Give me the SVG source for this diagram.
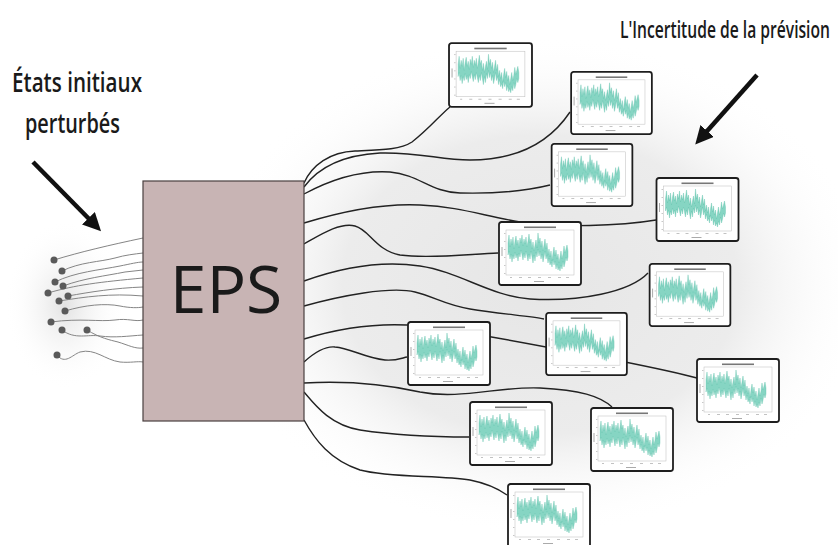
<svg xmlns="http://www.w3.org/2000/svg" xmlns:xlink="http://www.w3.org/1999/xlink" width="838" height="545" viewBox="0 0 838 545">
<defs>
<style>
.lbl{font-family:"Open Sans","Noto Sans","DejaVu Sans",sans-serif;fill:#1a1a1a}
.cap{font-weight:600}
.in{fill:none;stroke:#858585;stroke-width:1}
.dot{fill:#5a5a5a}
.out{fill:none;stroke:#222;stroke-width:1.4}
.arr{stroke:#111;stroke-width:4.5;fill:none}
</style>
<radialGradient id="bg1" cx="0.5" cy="0.5" r="0.5">
<stop offset="0" stop-color="#e6e6e6"/>
<stop offset="0.6" stop-color="#ececec"/>
<stop offset="1" stop-color="#ffffff" stop-opacity="0"/>
</radialGradient>
<radialGradient id="bg2" cx="0.5" cy="0.5" r="0.5">
<stop offset="0" stop-color="#e2e2e2"/>
<stop offset="1" stop-color="#ffffff" stop-opacity="0"/>
</radialGradient>
<marker id="ah" viewBox="0 0 10 10" refX="6" refY="5" markerWidth="4" markerHeight="4" orient="auto" markerUnits="strokeWidth">
<path d="M0,0 L10,5 L0,10 z" fill="#111"/>
</marker>
<symbol id="chart" viewBox="0 0 84 65">
<rect x="1" y="1" width="82" height="63" rx="2.5" fill="#fff" stroke="#1e1e1e" stroke-width="1.8"/>
<rect x="8" y="9" width="68" height="45" fill="#fff" stroke="#bbb" stroke-width="0.5"/>
<rect x="26" y="5.5" width="32" height="1.6" fill="#777"/>
<rect x="3.5" y="26" width="1" height="9" fill="#aaa"/>
<g fill="#bbb"><rect x="6" y="12" width="1.5" height="0.8"/><rect x="6" y="20" width="1.5" height="0.8"/><rect x="6" y="28" width="1.5" height="0.8"/><rect x="6" y="36" width="1.5" height="0.8"/><rect x="6" y="44" width="1.5" height="0.8"/><rect x="6" y="52" width="1.5" height="0.8"/>
<rect x="12" y="56" width="2" height="0.9"/><rect x="21" y="56" width="3" height="0.9"/><rect x="30" y="56" width="3" height="0.9"/><rect x="40" y="56" width="3" height="0.9"/><rect x="50" y="56" width="3" height="0.9"/><rect x="60" y="56" width="3" height="0.9"/><rect x="68" y="56" width="3" height="0.9"/></g>
<rect x="36" y="60" width="10" height="1" fill="#aaa"/>
<polygon fill="#86d5c3" stroke="#5bbfa9" stroke-width="0.35" points="10,22 11,14 12,26 13,18 14,24 15,16 16,28 17,20 18,15 19,24 20,19 21,27 22,17 23,22 24,14 25,25 26,18 27,23 28,16 29,26 30,20 31,13 32,22 33,18 34,28 35,21 36,30 37,24 38,19 39,27 40,12 41,22 42,17 43,26 44,20 45,30 46,24 47,18 48,28 49,22 50,34 51,28 52,36 53,30 54,40 55,32 56,26 57,35 58,29 59,38 60,33 61,42 62,36 63,30 64,38 65,33 66,25 67,32 68,28 69,24 70,30 70,36 69,40 68,36 67,42 66,46 65,40 64,48 63,44 62,50 61,46 60,49 59,43 58,48 57,40 56,44 55,38 54,46 53,41 52,44 51,37 50,42 49,34 48,38 47,30 46,36 45,41 44,33 43,38 42,30 41,35 40,28 39,36 38,31 37,40 36,34 35,42 34,36 33,30 32,38 31,33 30,40 29,35 28,30 27,37 26,32 25,39 24,34 23,29 22,36 21,32 20,40 19,33 18,37 17,31 16,38 15,34 14,41 13,33 12,38 11,30 10,34"/>
</symbol>
</defs>
<rect width="838" height="545" fill="#fff"/>
<ellipse cx="540" cy="285" rx="330" ry="250" fill="url(#bg1)"/>
<ellipse cx="65" cy="305" rx="60" ry="85" fill="url(#bg2)"/>

<text class="lbl cap" transform="translate(12,92) scale(0.65,1)" font-size="27" textLength="200" lengthAdjust="spacingAndGlyphs">États initiaux</text>
<text class="lbl cap" transform="translate(25,133) scale(0.65,1)" font-size="27" textLength="146" lengthAdjust="spacingAndGlyphs">perturbés</text>
<text class="lbl cap" transform="translate(620,38) scale(0.65,1)" font-size="24" textLength="323" lengthAdjust="spacingAndGlyphs">L'Incertitude de la prévision</text>

<g id="arrows">
<line class="arr" x1="33" y1="162" x2="96" y2="226" marker-end="url(#ah)"/>
<line class="arr" x1="757" y1="75" x2="700" y2="139" marker-end="url(#ah)"/>
</g>

<g id="connectors">
<g id="inputs">
<path class="in" d="M54,260 C80,252 110,245 143,238"/>
<path class="in" d="M62,271 C80,262 100,262 115,258 C125,255 135,254 143,253"/>
<path class="in" d="M55,282 C75,272 100,270 120,266 C130,264 138,262 143,262"/>
<path class="in" d="M63,286 C85,278 105,276 125,272 L143,270"/>
<path class="in" d="M48,293 C75,285 100,282 143,278"/>
<path class="in" d="M68,296 C90,292 115,288 143,287"/>
<path class="in" d="M59,301 C85,297 110,293 143,296"/>
<path class="in" d="M65,311 C85,305 105,303 120,306 C130,308 138,308 143,307"/>
<path class="in" d="M51,322 C80,318 100,322 115,320 C128,318 135,322 143,320"/>
<path class="in" d="M62,330 C75,340 88,334 100,336 C115,338 128,336 143,335"/>
<path class="in" d="M87,330 C100,338 110,340 118,342 C128,345 135,349 143,348"/>
<path class="in" d="M57,355 C65,365 72,355 80,352 C95,348 105,360 120,362 C130,363 138,361 143,362"/>
</g>
<g id="outputs">
<path class="out" d="M304,183 C312,165 330,152 355,151 C380,150 400,150 412,142 C428,130 440,115 450,107"/>
<path class="out" d="M304,187 C320,165 345,155 380,153 C420,152 440,160 470,160 C515,160 548,145 570,112"/>
<path class="out" d="M304,194 C330,180 360,170 390,172 C420,175 430,192 460,193 C500,194 530,190 550,185"/>
<path class="out" d="M304,223 C340,212 380,203 420,205 C460,207 480,215 520,222 C560,228 620,226 656,220"/>
<path class="out" d="M304,244 C320,235 340,222 355,226 C370,230 375,250 400,255 C430,259 470,254 498,253"/>
<path class="out" d="M304,281 C340,268 380,260 420,266 C460,272 490,296 530,299 C580,302 630,292 648,273"/>
<path class="out" d="M304,306 C340,296 390,286 415,292 C435,297 445,305 470,309 C500,314 530,316 544,319"/>
<path class="out" d="M304,339 C340,328 380,322 420,326 C480,333 560,350 620,361 C650,367 675,372 697,378"/>
<path class="out" d="M304,362 C315,352 325,346 335,347 C350,348 365,358 385,360 C395,361 402,358 407,357"/>
<path class="out" d="M304,383 C340,381 380,383 420,392 C460,400 500,386 540,388 C580,390 600,396 612,407"/>
<path class="out" d="M304,392 C315,405 330,425 360,430 C400,436 440,437 469,437"/>
<path class="out" d="M304,420 C315,440 330,460 360,470 C390,478 440,475 470,480 C490,484 500,490 507,495"/>
</g>
</g>

<g id="dots">
<circle class="dot" cx="54" cy="260" r="3.5"/>
<circle class="dot" cx="62" cy="271" r="3.5"/>
<circle class="dot" cx="55" cy="282" r="3.5"/>
<circle class="dot" cx="63" cy="286" r="3.5"/>
<circle class="dot" cx="48" cy="293" r="3.5"/>
<circle class="dot" cx="68" cy="296" r="3.5"/>
<circle class="dot" cx="59" cy="301" r="3.5"/>
<circle class="dot" cx="65" cy="311" r="3.5"/>
<circle class="dot" cx="51" cy="322" r="3.5"/>
<circle class="dot" cx="62" cy="330" r="3.5"/>
<circle class="dot" cx="87" cy="330" r="3.5"/>
<circle class="dot" cx="57" cy="355" r="3.5"/>
</g>

<g id="eps">
<rect x="143" y="181" width="161" height="240" fill="#c8b4b4" stroke="#4a4040" stroke-width="1.2"/>
<text class="lbl" x="226" y="313" font-size="66" text-anchor="middle" fill="#111">EPS</text>
</g>

<g id="chart1"><use xlink:href="#chart" x="448" y="42" width="85" height="66"/></g>
<g id="chart2"><use xlink:href="#chart" x="570" y="71" width="83" height="64"/></g>
<g id="chart3"><use xlink:href="#chart" x="550" y="143" width="84" height="64"/></g>
<g id="chart4"><use xlink:href="#chart" x="655" y="177" width="85" height="65"/></g>
<g id="chart5"><use xlink:href="#chart" x="498" y="221" width="84" height="65"/></g>
<g id="chart6"><use xlink:href="#chart" x="648" y="263" width="84" height="64"/></g>
<g id="chart7"><use xlink:href="#chart" x="407" y="321" width="84" height="65"/></g>
<g id="chart8"><use xlink:href="#chart" x="544" y="312" width="85" height="64"/></g>
<g id="chart9"><use xlink:href="#chart" x="696" y="358" width="84" height="65"/></g>
<g id="chart10"><use xlink:href="#chart" x="469" y="401" width="84" height="65"/></g>
<g id="chart11"><use xlink:href="#chart" x="590" y="407" width="84" height="65"/></g>
<g id="chart12"><use xlink:href="#chart" x="507" y="483" width="84" height="65"/></g>
</svg>
